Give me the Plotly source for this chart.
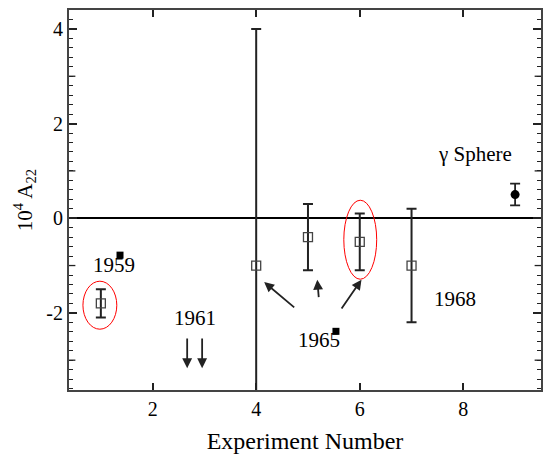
import plotly.graph_objects as go

# ---- data ----
exp_x = [1, 4, 5, 6, 7]
exp_y = [-1.8, -1.0, -0.4, -0.5, -1.0]
exp_err = [0.3, 5.0, 0.7, 0.6, 1.2]

sphere_x = [9]
sphere_y = [0.5]
sphere_err = [0.23]

ref_mark_x = [1.37, 5.54]
ref_mark_y = [-0.78, -2.39]

y_tickvals = [-2, 0, 2, 4]
y_ticktext = ["-2", "0", "2", "4"]
y_midticks = [-3, -1, 1, 3]
x_tickvals = [2, 4, 6, 8]

labels = ["1959", "1961", "1965", "1968", "γ Sphere"]
label_x = [1.25, 2.81, 5.21, 7.83, 8.23]
label_y = [-0.99, -2.11, -2.58, -1.71, 1.35]

# arrows: head (x, y), tail (ax, ay)
arrow_x = [2.667, 2.956, 4.154, 5.18, 6.033]
arrow_y = [-3.17, -3.17, -1.35, -1.30, -1.30]
arrow_ax = [2.667, 2.956, 4.763, 5.21, 5.629]
arrow_ay = [-2.51, -2.51, -1.91, -1.70, -1.94]

# red ellipses: x0, x1, y0, y1
ellipses = [(0.654, 1.308, -2.345, -1.331), (5.692, 6.327, -1.289, 0.380)]

Y_RANGE = [-3.63, 4.40]
FONT = "Liberation Serif"
INK = "#222"

fig = go.Figure()

fig.add_trace(go.Scatter(
    x=exp_x, y=exp_y, mode="markers",
    marker=dict(symbol="square-open", size=9, color="#444", line=dict(width=1.3)),
    error_y=dict(type="data", array=exp_err, visible=True, color=INK, thickness=2, width=5),
    showlegend=False,
))
fig.add_trace(go.Scatter(
    x=sphere_x, y=sphere_y, mode="markers",
    marker=dict(symbol="circle", size=9, color="black"),
    error_y=dict(type="data", array=sphere_err, visible=True, color=INK, thickness=1.8, width=5),
    showlegend=False,
))
fig.add_trace(go.Scatter(
    x=ref_mark_x, y=ref_mark_y, mode="markers",
    marker=dict(symbol="square", size=7, color="black"),
    showlegend=False,
))

for t, x, y in zip(labels, label_x, label_y):
    fig.add_annotation(x=x, y=y, text=t, showarrow=False,
                       font=dict(family=FONT, size=21, color="black"))

for x, y, ax, ay in zip(arrow_x, arrow_y, arrow_ax, arrow_ay):
    fig.add_annotation(x=x, y=y, ax=ax, ay=ay, axref="x", ayref="y", xref="x", yref="y",
                       text="", showarrow=True, arrowhead=2, arrowsize=1.1,
                       arrowwidth=1.8, arrowcolor=INK, standoff=0, startstandoff=0)

for x0, x1, y0, y1 in ellipses:
    fig.add_shape(type="circle", xref="x", yref="y", x0=x0, x1=x1, y0=y0, y1=y1,
                  line=dict(color="red", width=1))

# medium-length ticks at odd integers on both vertical frame sides
for v in y_midticks:
    for xa, xb in [(0, 0.0135), (0.9865, 1)]:
        fig.add_shape(type="line", xref="paper", yref="y", x0=xa, x1=xb, y0=v, y1=v,
                      line=dict(color=INK, width=1.3), layer="above")

fig.update_xaxes(
    range=[0.385, 9.5], tickvals=x_tickvals, ticks="inside", ticklen=7, tickwidth=1.5,
    tickcolor=INK, showline=True, linecolor="#444", linewidth=2, mirror="allticks",
    showgrid=False, zeroline=False,
    tickfont=dict(family=FONT, size=20, color="black"),
    title=dict(text="Experiment Number", font=dict(family=FONT, size=24, color="black"), standoff=13),
)
fig.update_yaxes(
    range=Y_RANGE, tickvals=y_tickvals, ticktext=y_ticktext, ticks="inside",
    ticklen=8, tickwidth=1.5, tickcolor=INK, showline=True, linecolor="#444", linewidth=2,
    mirror="allticks", showgrid=False,
    zeroline=True, zerolinecolor="black", zerolinewidth=2,
    minor=dict(dtick=0.2, tick0=0, ticks="inside", ticklen=4, tickcolor=INK, tickwidth=1.2, showgrid=False),
    tickfont=dict(family=FONT, size=20, color="black"),
    title=dict(text="10<sup>4</sup> A<sub>22</sub>", font=dict(family=FONT, size=21, color="black"), standoff=8),
)

fig.update_layout(
    width=544, height=459,
    margin=dict(l=69, r=1, t=10, b=69),
    paper_bgcolor="white", plot_bgcolor="white",
)

fig.write_html("out.html")
